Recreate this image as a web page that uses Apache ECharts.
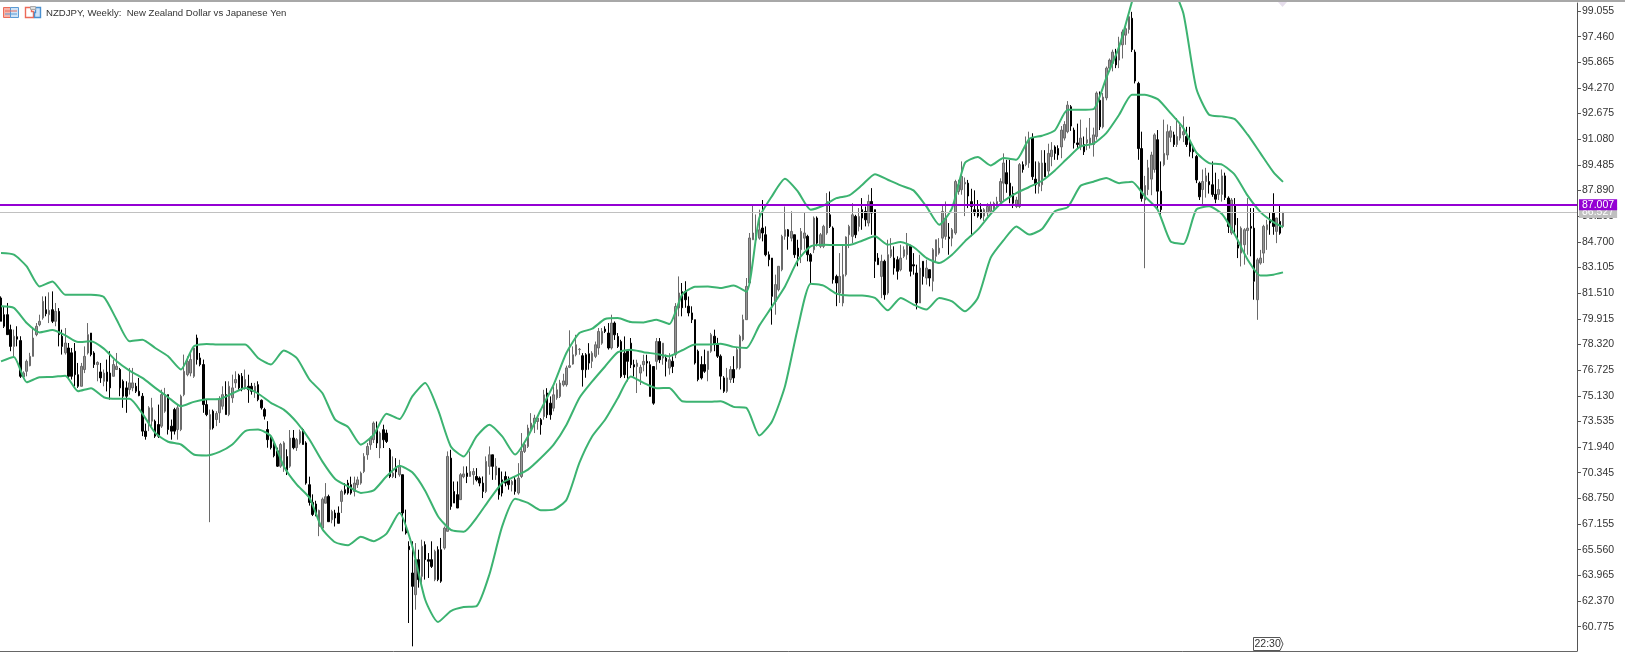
<!DOCTYPE html>
<html>
<head>
<meta charset="utf-8">
<title>NZDJPY Weekly</title>
<script src="https://cdn.jsdelivr.net/npm/echarts@6/dist/echarts.min.js"></script>
<style>
  html, body { margin: 0; padding: 0; background: #fff; }
  #chart { width: 1625px; height: 652px; }
</style>
</head>
<body>
<div id="chart"></div>
<script>
const titleText = 'NZDJPY, Weekly:  New Zealand Dollar vs Japanese Yen'
const timeTag = '22:30'
const lastPrice = 87.007
const bidPrice = 86.527

const tickLabels = [99.055, 97.46, 95.865, 94.27, 92.675, 91.08, 89.485, 87.89, 86.295, 84.7, 83.105, 81.51, 79.915,
  78.32, 76.725, 75.13, 73.535, 71.94, 70.345, 68.75, 67.155, 65.56, 63.965, 62.37, 60.775]

// weekly bars as open, close, low, high
const bars = [
  [81.21,79.76,79.76,81.31],[80.17,79.45,79.34,80.69],[80.17,78.93,78.93,80.9],[79.24,78.2,77.9,79.55],[78.2,78.83,77.48,79.24],
  [78.8,78.65,78.2,79.45],[78.56,76.34,76.24,78.83],[76.3,76.55,76.24,76.65],[76.65,77.27,76.34,77.38],[77.0,77.58,76.96,77.8],
  [77.58,78.72,77.58,79.34],[78.93,79.45,78.83,79.65],[79.55,79.76,79.45,80.17],[79.97,81.0,79.86,81.31],[80.48,80.23,80.07,81.31],
  [80.17,80.44,79.65,81.56],[80.48,79.76,79.65,81.62],[79.76,80.38,79.45,80.9],[80.38,78.93,78.2,80.58],[78.83,78.2,77.69,79.24],
  [77.8,78.41,77.69,79.34],[78.1,76.34,76.14,78.41],[77.8,76.34,76.14,78.1],[77.9,76.44,75.72,78.41],[76.44,75.72,75.62,77.17],
  [75.72,76.96,75.72,77.17],[76.76,77.58,76.54,78.2],[77.79,78.93,77.69,79.65],[79.03,77.69,77.58,79.03],[77.79,77.07,76.86,77.9],
  [77.07,77.2,76.03,77.27],[76.61,76.24,75.93,77.17],[76.03,76.54,75.72,76.76],[76.6,76.03,75.4,77.38],[76.54,75.62,74.89,77.9],
  [76.34,77.07,76.34,77.38],[76.76,76.96,76.76,77.79],[76.76,75.62,75.1,76.86],[76.03,75.1,74.38,76.14],[75.62,75.1,74.07,76.03],
  [75.51,75.93,75.2,76.86],[75.62,75.93,75.41,76.86],[75.72,75.41,75.3,75.93],[75.41,75.14,75.1,76.24],[75.1,72.93,72.62,75.3],
  [72.93,72.6,72.4,73.4],[73.44,74.38,72.93,74.48],[73.55,74.38,73.24,75.0],[73.55,72.62,72.51,73.65],[73.34,72.62,72.51,74.58],
  [73.24,75.2,73.13,75.51],[74.17,75.2,74.07,75.62],[75.2,73.03,72.72,75.2],[73.24,72.93,72.4,73.65],[74.27,72.93,72.72,74.38],
  [73.03,74.38,72.4,74.58],[73.03,75.1,72.93,75.2],[75.2,76.65,75.1,77.69],[76.44,77.27,76.34,77.58],[76.54,77.38,76.34,77.9],
  [76.34,78.1,76.24,78.2],[78.72,77.38,77.07,78.93],[77.48,77.07,76.96,77.79],[77.07,74.58,74.07,77.38],[74.58,73.96,73.86,74.89],
  [73.03,73.96,67.27,74.27],[74.17,73.13,73.03,74.27],[73.65,74.03,73.24,74.17],[74.07,74.9,73.44,75.1],[74.48,75.2,74.27,75.72],
  [75.2,73.96,73.96,76.03],[73.96,75.72,73.86,76.03],[75.0,75.62,74.69,76.44],[75.93,76.14,75.62,76.65],[76.4,75.62,75.51,76.5],
  [76.34,75.62,75.41,76.54],[75.62,76.14,75.51,76.76],[75.72,75.51,74.69,76.44],[75.72,75.41,75.2,75.93],[75.41,75.72,75.0,75.93],
  [75.82,74.89,74.79,76.03],[74.85,74.38,74.27,74.9],[74.27,73.86,73.65,74.38],[73.03,72.4,71.9,73.55],[72.5,71.9,71.79,72.6],
  [72.1,71.4,71.3,72.2],[71.7,70.75,70.7,71.9],[70.75,72.1,70.65,72.2],[70.75,72.2,70.4,72.3],[71.35,70.5,70.2,71.8],
  [70.75,72.5,70.65,73.0],[72.5,71.9,71.8,73.0],[71.9,72.4,71.7,72.5],[72.2,72.9,72.1,73.03],[73.03,72.1,72.1,73.13],
  [72.2,69.7,69.6,72.3],[69.6,68.5,68.3,70.1],[68.5,67.75,67.65,69.0],[68.4,67.65,67.65,68.6],[67.0,68.0,66.4,68.05],
  [66.9,68.7,66.8,68.8],[68.45,68.85,68.45,69.7],[68.87,67.3,67.3,68.98],[67.42,67.94,67.2,68.04],[67.84,67.53,67.0,68.04],
  [67.84,67.2,67.2,68.25],[68.56,69.18,67.84,69.29],[69.29,69.08,68.98,69.7],[69.7,69.08,68.98,69.9],[69.6,69.08,68.98,70.1],
  [69.18,69.7,68.87,70.1],[69.6,69.9,69.4,70.1],[69.7,70.32,69.6,70.42],[70.42,71.36,70.32,71.56],[71.46,71.98,71.15,72.19],
  [72.08,72.5,71.77,72.6],[72.4,73.43,72.19,73.53],[73.12,72.19,71.88,73.53],[71.88,72.81,71.25,72.91],[73.02,72.39,71.88,73.33],
  [72.81,72.29,72.19,73.02],[71.77,70.11,70.01,71.88],[70.11,70.32,70.01,71.36],[70.7,70.4,70.01,71.25],[70.22,70.73,70.1,71.15],
  [70.22,67.84,66.7,70.22],[67.0,66.6,66.5,68.05],[65.77,65.56,61.0,66.08],[64.11,63.28,59.55,66.08],[62.76,64.94,61.83,65.97],
  [64.94,63.7,63.2,65.56],[63.9,65.77,63.5,66.18],[65.87,64.94,63.7,66.08],[64.94,64.84,63.8,65.35],[64.94,64.52,64.42,66.08],
  [63.7,65.46,63.6,65.56],[65.56,63.7,63.6,65.77],[65.56,63.6,63.5,66.29],[65.66,66.9,65.56,67.0],[66.7,71.36,66.7,71.67],
  [71.25,68.25,68.04,71.77],[69.18,68.46,68.46,69.8],[68.98,68.15,68.15,69.8],[68.67,70.22,68.67,70.32],[70.1,70.27,70.0,70.74],
  [70.32,70.11,69.7,70.74],[70.11,70.42,70.11,71.67],[70.22,70.42,69.6,70.63],[70.11,69.9,69.8,70.63],[70.01,69.7,69.5,70.11],
  [69.7,69.18,68.77,70.11],[69.18,71.05,69.08,71.36],[70.74,71.46,70.22,71.98],[71.46,70.74,69.9,71.46],[70.2,70.74,69.9,71.25],
  [70.63,68.98,68.67,70.63],[69.9,69.08,68.87,70.42],[70.11,69.7,69.5,70.42],[69.9,69.6,69.29,70.11],[69.6,69.8,69.18,69.9],
  [69.9,69.18,68.98,70.11],[69.08,70.01,68.98,70.94],[70.11,71.67,70.01,72.81],[71.67,72.08,71.57,72.19],[71.98,73.12,71.88,73.33],
  [73.12,73.43,73.02,74.05],[73.43,73.74,72.81,73.95],[73.53,73.74,73.02,73.84],[73.64,73.33,72.71,73.74],[73.84,75.19,73.64,75.5],
  [75.3,73.95,73.74,75.6],[74.67,73.95,73.64,75.09],[74.36,75.19,74.16,75.71],[75.0,75.5,74.88,75.9],[75.09,75.92,74.99,76.12],
  [75.8,76.05,75.7,76.5],[75.82,76.86,75.7,77.0],[76.9,77.0,76.85,79.2],[77.1,77.68,77.06,78.2],[77.68,78.3,77.58,78.92],
  [78.0,78.02,77.68,78.1],[77.62,76.75,75.7,77.78],[77.68,76.75,76.25,77.78],[77.74,77.16,76.75,78.4],[77.27,77.78,76.85,77.9],
  [77.58,78.3,77.47,78.5],[78.1,79.13,77.68,79.34],[78.4,79.13,78.3,79.34],[79.27,79.13,79.03,79.45],[79.03,78.1,78.0,79.65],
  [78.1,79.65,78.0,80.17],[79.65,78.92,78.6,79.75],[78.82,78.2,78.1,79.03],[78.5,76.33,76.23,78.61],[77.78,76.44,76.23,78.82],
  [77.9,77.27,76.03,78.0],[78.4,77.06,76.85,78.72],[77.06,76.92,76.33,77.37],[76.95,77.16,75.3,77.37],[76.54,76.9,75.8,77.06],
  [77.06,77.27,76.65,77.68],[77.27,77.16,76.33,77.68],[77.06,75.09,75.09,77.27],[76.95,74.67,74.57,76.95],[77.27,78.5,76.75,78.72],
  [78.5,77.37,77.16,78.72],[77.47,78.4,77.06,78.4],[77.47,77.27,76.33,77.68],[76.85,77.37,76.44,77.78],[77.27,76.95,76.54,77.58],
  [77.68,80.68,77.47,80.89],[80.59,81.52,80.07,82.55],[81.6,80.6,80.07,82.14],[81.62,81.1,80.6,82.25],[80.7,80.28,80.07,81.3],
  [80.28,79.86,79.65,80.69],[79.86,77.17,77.07,79.86],[77.9,76.14,76.03,78.0],[77.07,76.24,76.14,77.59],[77.07,76.65,76.55,78.0],
  [76.76,77.9,76.03,77.9],[77.9,78.93,77.8,79.04],[78.83,78.31,77.9,79.24],[78.31,77.59,77.48,78.73],[77.59,76.35,75.52,77.7],
  [76.24,75.41,75.31,76.35],[75.41,76.24,75.31,76.86],[76.14,76.76,75.93,76.97],[76.76,76.24,75.93,77.59],[76.86,78.0,76.76,78.1],
  [76.86,78.83,76.76,78.93],[78.62,79.86,78.52,80.17],[79.86,81.93,79.86,82.45],[82.14,84.94,82.14,85.25],[84.83,85.25,84.83,87.0],
  [84.83,85.14,84.83,86.4],[84.93,85.45,84.83,86.7],[85.56,85.25,84.73,87.3],[85.14,83.9,83.8,85.66],[83.9,83.59,83.18,84.1],
  [83.69,81.31,79.55,83.69],[81.0,82.04,80.17,82.66],[81.73,83.18,81.62,83.18],[82.97,85.04,82.87,85.14],[85.04,85.45,84.83,86.9],
  [85.45,85.04,84.21,85.5],[84.93,85.35,84.73,86.6],[85.14,83.9,83.7,85.14],[84.31,83.8,83.18,84.83],[84.21,85.35,83.38,85.56],
  [84.93,85.25,84.21,86.5],[85.04,83.9,83.49,85.14],[83.9,83.49,82.14,84.0],[84.21,86.18,84.0,86.28],[86.18,84.62,84.42,86.28],
  [84.42,85.14,84.31,85.25],[84.42,85.66,84.31,85.76],[85.25,87.21,85.14,87.73],[86.38,85.66,85.56,87.83],[85.56,82.35,82.1,85.66],
  [82.55,82.14,80.7,82.66],[81.52,82.55,80.9,84.0],[80.9,82.66,80.69,84.52],[82.66,85.0,82.55,85.04],[85.14,85.66,84.31,85.76],
  [85.04,86.38,84.62,87.1],[86.28,85.14,84.93,86.38],[85.66,86.28,85.35,86.8],[86.7,86.18,85.45,87.42],[86.59,86.07,85.66,86.9],
  [85.87,87.21,85.66,87.63],[87.21,86.49,85.14,88.04],[86.7,83.49,82.45,86.7],[83.69,83.28,83.28,84.0],[82.55,83.49,81.2,83.9],
  [83.49,81.41,81.1,83.59],[81.52,83.9,81.41,84.83],[83.8,84.21,83.69,84.93],[83.69,83.07,82.66,84.42],[83.59,82.87,82.35,83.8],
  [82.97,83.69,82.87,84.52],[83.8,84.21,83.69,84.42],[83.9,84.52,83.59,85.25],[84.42,82.87,82.55,84.52],[83.28,83.2,82.66,84.0],
  [82.76,80.9,80.5,83.28],[80.9,83.07,80.9,83.9],[83.49,82.55,82.04,83.49],[82.45,83.07,82.04,83.59],[82.97,82.45,81.93,82.97],
  [82.25,84.21,81.62,84.31],[83.8,84.83,83.49,84.83],[84.0,84.31,83.9,84.93],[84.93,86.59,84.31,87.0],[85.04,86.18,84.83,87.21],
  [85.0,84.9,83.9,85.87],[84.93,85.45,84.42,85.56],[85.25,88.45,85.14,88.56],[87.83,88.25,87.63,88.56],[87.94,88.77,87.63,89.7],
  [88.3,88.4,86.3,88.7],[88.35,87.55,86.8,88.55],[87.2,86.9,85.05,88.0],[86.7,86.5,86.3,87.9],[86.7,86.3,86.2,87.3],
  [86.7,86.2,86.1,87.1],[86.3,86.7,86.0,86.8],[86.5,86.9,86.3,87.1],[86.6,87.0,86.5,87.2],[86.7,87.1,86.5,87.2],
  [86.9,87.2,86.9,87.5],[87.2,88.45,87.0,88.65],[88.35,89.6,87.3,90.2],[89.0,88.3,87.75,89.8],[88.35,87.5,87.1,89.8],
  [87.7,87.1,86.8,88.15],[86.9,87.3,86.8,87.5],[86.9,89.5,86.8,89.6],[89.5,89.2,89.0,89.7],[89.5,90.8,89.4,91.25],
  [89.6,91.05,89.3,91.55],[91.15,88.75,88.55,91.45],[88.6,88.25,87.7,89.7],[88.15,89.6,87.7,89.7],[88.25,89.6,87.85,90.4],
  [89.6,88.75,88.75,90.4],[89.1,90.2,88.75,90.8],[90.0,90.4,89.4,90.9],[90.6,90.2,89.8,90.7],[90.5,90.1,89.8,90.7],
  [90.6,91.65,89.9,91.9],[91.15,92.0,91.0,92.2],[91.55,93.2,91.45,93.45],[93.1,91.9,91.6,93.2],
  [91.65,90.85,90.5,91.8],[90.85,90.75,90.5,92.05],[90.6,91.15,90.4,92.3],[90.75,90.3,90.1,91.25],[90.85,91.05,90.4,91.8],
  [90.75,91.15,90.5,92.4],[90.75,91.35,90.0,91.8],[91.25,93.95,91.05,94.05],[93.5,91.85,91.65,94.05],[91.85,93.7,91.75,93.95],
  [93.65,95.5,93.5,95.6],[95.5,96.0,95.3,96.1],[95.8,96.5,95.3,96.65],[96.3,95.7,95.5,96.7],[96.0,97.05,95.5,97.45],
  [96.95,97.75,96.1,97.9],[97.55,97.95,96.95,98.3],[97.9,98.7,97.65,98.95],[98.6,96.65,96.5,99.0],[96.5,94.7,94.55,96.65],
  [94.55,90.5,89.8,94.65],[90.5,87.4,87.2,91.55],[87.3,88.2,83.06,88.8],[87.95,89.3,87.6,89.8],[88.6,90.1,87.6,90.3],
  [89.2,91.35,89.0,91.45],[91.05,87.85,86.7,91.65],[87.85,86.7,86.3,89.7],[89.5,90.2,89.4,92.3],[90.1,91.55,89.8,92.0],
  [91.2,91.6,90.9,91.9],[91.35,90.75,90.6,91.55],[90.75,91.25,90.6,92.4],[91.15,91.85,91.0,92.05],[91.35,91.55,90.9,92.5],
  [91.25,90.75,90.6,91.85],[90.85,90.3,90.0,91.85],[90.5,90.3,89.9,90.65],[90.0,88.55,88.35,90.1],[88.35,87.5,87.3,88.45],
  [87.95,88.45,87.0,89.2],[88.45,88.8,87.45,89.3],[88.45,88.25,87.7,89.0],[88.25,87.65,87.5,89.7],[87.65,87.35,87.1,89.0],
  [87.65,87.95,87.3,88.6],[87.65,88.8,87.2,89.2],[88.8,87.45,87.3,89.0],[87.42,85.66,85.25,87.53],[85.25,87.3,85.14,87.42],[87.0,85.76,85.14,87.42],
  [84.52,84.31,83.69,86.18],[84.0,85.55,83.17,85.66],[84.52,85.45,83.28,85.55],[85.4,85.55,83.9,87.42],[85.66,85.55,83.8,86.8],
  [85.55,82.25,81.1,86.8],[81.1,83.58,79.85,83.7],[83.38,83.69,83.28,84.2],[84.0,85.66,83.38,85.76],[85.45,85.76,84.2,86.07],
  [86.07,85.87,85.14,86.49],[86.49,85.66,85.14,87.72],[85.35,86.18,84.62,86.2],[85.97,85.24,85.14,87.0],[85.66,86.53,85.55,86.56]
]

// band readings, one every 4 bars plus the last bar
const upperBand = [84.0,83.9,83.17,81.93,82.24,81.41,81.41,81.41,81.27,79.86,
  78.52,78.62,78.1,77.58,76.76,78.2,78.35,78.31,78.31,78.31,
  77.48,77.07,77.94,77.48,76.14,
  75.3,73.64,73.19,72.09,72.71,74.01,73.68,75.09,75.92,74.26,
  71.98,71.36,72.6,73.33,72.6,71.47,72.6,74.26,75.82,77.8,
  79.03,79.3,79.9,79.96,79.71,79.69,79.86,79.59,81.42,81.91,
  81.93,81.83,81.98,81.6,86.18,87.56,88.62,87.83,86.7,86.96,
  87.42,87.59,88.23,88.91,88.56,88.21,87.9,86.9,85.76,86.8,
  89.6,89.97,89.45,89.91,89.8,91.1,91.3,91.63,92.91,92.91,
  92.95,94.9,96.84,99.64,102.5,104.5,101,98.9,94.25,92.6,
  92.5,92.33,91.36,90.2,89.04,88.43]
const middleBand = [80.69,80.59,79.65,79.07,79.22,78.89,78.47,78.52,78.06,77.27,
  76.69,76.24,75.62,75.04,74.48,74.75,74.91,74.93,75.27,75.62,
  75.27,74.69,74.27,73.49,72.41,
  71.05,69.96,69.5,69.09,69.25,70.12,70.78,70.37,69.23,67.64,
  66.79,66.67,67.54,68.67,69.71,70.12,70.54,71.26,72.09,73.33,
  74.99,76.02,76.95,77.84,77.99,77.84,77.73,77.59,77.96,78.31,
  78.31,78.37,78.17,78.1,79.49,80.69,81.93,83.55,84.42,84.52,
  84.5,84.5,84.77,85.04,84.52,84.69,84.38,83.7,83.38,83.9,
  84.73,85.46,86.43,87.22,87.73,88.11,88.5,89.14,89.91,90.63,
  90.8,91.46,92.6,93.84,93.84,93.57,92.7,91.77,90.26,89.6,
  89.5,88.87,87.57,86.55,85.93,85.62]
const lowerBand = [77.27,77.54,75.97,76.28,76.3,76.38,75.41,75.6,75.04,74.94,
  74.94,74.02,72.82,72.27,72.1,71.48,71.42,71.64,72.1,72.93,
  73.03,72.62,70.75,69.62,68.79,
  66.85,66.02,65.84,66.36,66.09,66.56,67.85,65.78,62.46,61.06,
  61.74,61.99,62.05,64.02,67.02,68.72,68.47,68.01,68.05,68.67,
  70.95,72.61,73.64,74.99,76.33,75.93,75.6,75.62,74.79,74.75,
  74.75,74.79,74.44,74.38,72.66,73.55,75.72,79.35,82.1,81.98,
  81.48,81.37,81.37,81.21,80.44,81.21,80.8,80.49,81.21,81.0,
  80.38,81.21,83.7,84.79,85.66,85.15,85.5,86.6,86.86,88.19,
  88.44,88.67,88.35,88.44,87.53,86.7,84.73,84.57,86.7,86.91,
  86.43,85.15,83.59,82.6,82.66,82.8]

const bandWeeks = []
for (let w = 0; w < bars.length; w += 4) bandWeeks.push(w)
bandWeeks.push(bars.length - 1)

// the axis runs on past the last bar, the way the terminal leaves empty space on the right
const weeks = []
for (let w = 0; w < 491; w++) weeks.push(String(w))

const bandLine = (name, values) => ({
  name,
  type: 'line',
  data: bandWeeks.map((w, k) => [w, values[k]]),
  showSymbol: false,
  smooth: 0.2,
  lineStyle: { color: '#3CB371', width: 2 },
  z: 5
})

const priceLine = (price, color, z) => ({
  type: 'line',
  data: [],
  z,
  markLine: {
    silent: true,
    symbol: 'none',
    animation: false,
    z,
    lineStyle: { color, width: color === '#9400D3' ? 2 : 1.2, type: 'solid' },
    label: {
      position: 'end',
      distance: 2,
      formatter: price.toFixed(3),
      color: '#fff',
      backgroundColor: color,
      fontFamily: 'Liberation Sans',
      fontSize: 10.5,
      lineHeight: 11,
      padding: [0, 3, 0, 3]
    },
    data: [{ yAxis: price }]
  }
})

const chart = echarts.init(document.getElementById('chart'))
chart.setOption({
  animation: false,
  backgroundColor: '#fff',
  title: {
    text: titleText,
    left: 46,
    top: 8,
    padding: 0,
    textStyle: { fontFamily: 'Liberation Sans', fontSize: 9.6, fontWeight: 'normal', color: '#333' }
  },
  grid: { left: -0.6, right: 48, top: 3, bottom: 1, outerBoundsMode: 'none' },
  xAxis: {
    type: 'category',
    data: weeks,
    boundaryGap: true,
    axisLine: { lineStyle: { color: '#666', width: 1 } },
    axisTick: { show: false },
    axisLabel: { show: false },
    splitLine: { show: false }
  },
  yAxis: {
    type: 'value',
    position: 'right',
    min: 59.26,
    max: 99.55,
    axisLine: { show: true, onZero: false, lineStyle: { color: '#555', width: 1 } },
    axisTick: { show: true, length: 4, lineStyle: { color: '#555' }, customValues: tickLabels },
    axisLabel: {
      color: '#333',
      fontFamily: 'Liberation Sans',
      fontSize: 10.5,
      margin: 5,
      customValues: tickLabels,
      formatter: v => v.toFixed(3)
    },
    splitLine: { show: false }
  },
  series: [
    {
      type: 'candlestick',
      data: bars,
      barWidth: 2,
      itemStyle: {
        color: '#969696',
        color0: '#000',
        borderColor: '#6a6a6a',
        borderColor0: '#000',
        borderWidth: 1
      },
      z: 3
    },
    bandLine('upper', upperBand),
    bandLine('middle', middleBand),
    bandLine('lower', lowerBand),
    priceLine(bidPrice, '#c0c0c0', 6),
    priceLine(lastPrice, '#9400D3', 7)
  ],
  graphic: [
    // window edge at the top
    { type: 'rect', shape: { x: 0, y: 0, width: 1625, height: 2 }, style: { fill: '#a8a8a8' }, silent: true },
    // small pale marker hanging from the top edge above the last bar
    { type: 'polygon', shape: { points: [[1278, 2], [1287, 2], [1282.5, 7]] }, style: { fill: '#e6deec' }, silent: true },
    // the two small toolbar icons beside the title
    { type: 'rect', shape: { x: 3.5, y: 7.5, width: 7, height: 10 }, style: { fill: '#f6b3a8', stroke: '#ec6a58' }, silent: true },
    { type: 'rect', shape: { x: 10.5, y: 7.5, width: 8, height: 10 }, style: { fill: '#cfe3f7', stroke: '#5a9bd5' }, silent: true },
    { type: 'line', shape: { x1: 5, y1: 11, x2: 17, y2: 11 }, style: { stroke: '#ec6a58' }, silent: true },
    { type: 'line', shape: { x1: 5, y1: 14, x2: 17, y2: 14 }, style: { stroke: '#5a9bd5' }, silent: true },
    { type: 'polygon', shape: { points: [[25.5, 7.5], [31.5, 7.5], [31.5, 11.5], [33.5, 11.5], [33.5, 17.5], [25.5, 17.5]] }, style: { fill: '#fff', stroke: '#ec6a58', lineWidth: 1.4 }, silent: true },
    { type: 'polygon', shape: { points: [[35.5, 7.5], [40.5, 7.5], [40.5, 17.5], [34.5, 17.5], [34.5, 12.5], [35.5, 12.5]] }, style: { fill: '#cfe3f7', stroke: '#4a90d0', lineWidth: 1.4 }, silent: true },
    { type: 'rect', shape: { x: 30.5, y: 6.5, width: 5, height: 3 }, style: { fill: '#ddd', stroke: '#aaa' }, silent: true },
    // time tag at the bottom of the last bar
    {
      type: 'polygon',
      shape: { points: [[1253.5, 637.5], [1280, 637.5], [1283, 644], [1280, 650.5], [1253.5, 650.5]] },
      style: { fill: '#fff', stroke: '#555' },
      silent: true
    },
    {
      type: 'text',
      x: 1254.5,
      y: 638.5,
      style: { text: timeTag, fill: '#333', font: '10.5px "Liberation Sans"' },
      silent: true
    }
  ]
})
</script>
</body>
</html>
